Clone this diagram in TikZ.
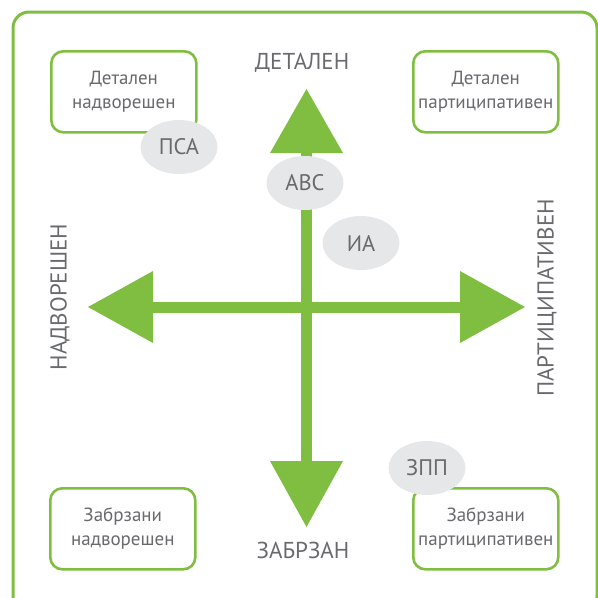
\documentclass[tikz,border=0pt]{standalone}
\usepackage{fontspec}
\setmainfont{PT Sans}
\usetikzlibrary{shapes.geometric}
\definecolor{grn}{RGB}{128,190,66}
\definecolor{txt}{RGB}{105,106,110}
\definecolor{ell}{RGB}{230,231,232}
\begin{document}
\begin{tikzpicture}[x=1pt,y=-1pt,
  qbox/.style={draw=grn,line width=2.6pt,rounded corners=12pt,fill=white,minimum width=145pt,minimum height=81pt,inner sep=0pt,align=center,font=\fontsize{19}{24}\selectfont,text=txt,anchor=north west},
  tag/.style={ellipse,fill=ell,minimum width=77pt,minimum height=54pt,inner sep=0pt,font=\fontsize{22.5}{24}\selectfont,text=txt},
  axis/.style={font=\fontsize{23}{24}\selectfont,text=txt},
  arr/.style={fill=grn},
  shaft/.style={draw=grn,line width=11pt}]
\useasboundingbox (0,0) rectangle (598,598);
\begin{scope}
\clip (0,0) rectangle (598,598);
\draw[grn,line width=3pt,rounded corners=16pt] (13,12) rectangle (597,612);
\end{scope}
% arrows
\coordinate (ct) at (306.5,152);
\coordinate (cb) at (306.5,463);
\coordinate (cl) at (152,307);
\coordinate (cr) at (461,307);
\draw[shaft] (ct) -- (cb);
\draw[shaft] (cl) -- (cr);
\fill[arr] (306.5,89) -- (343,153) -- (270,153) -- cycle;
\fill[arr] (306.5,527) -- (343,461) -- (270,461) -- cycle;
\fill[arr] (88,307) -- (153,271) -- (153,343) -- cycle;
\fill[arr] (525,307) -- (460,271) -- (460,343) -- cycle;
% axis labels
\node[axis] (top) at (302,63) {ДЕТАЛЕН};
\node[axis] (bot) at (303,550) {ЗАБРЗАН};
\node[axis,rotate=90] (lft) at (60,297) {НАДВОРЕШЕН};
\node[axis,rotate=90] (rgt) at (547,298) {ПАРТИЦИПАТИВЕН};
% boxes
\node[qbox] (tl) at (50,50) {Детален\\надворешен};
\node[qbox] (tr) at (412,50) {Детален\\партиципативен};
\node[qbox] (bl) at (49,487) {Забрзани\\надворешен};
\node[qbox] (br) at (412,487) {Забрзани\\партиципативен};
% tags
\node[tag] (psa) at (179,147) {ПСА};
\node[tag] (abc) at (305,183) {АВС};
\node[tag] (ia) at (361,243) {ИА};
\node[tag] (zpp) at (427,468) {ЗПП};
\end{tikzpicture}
\end{document}
